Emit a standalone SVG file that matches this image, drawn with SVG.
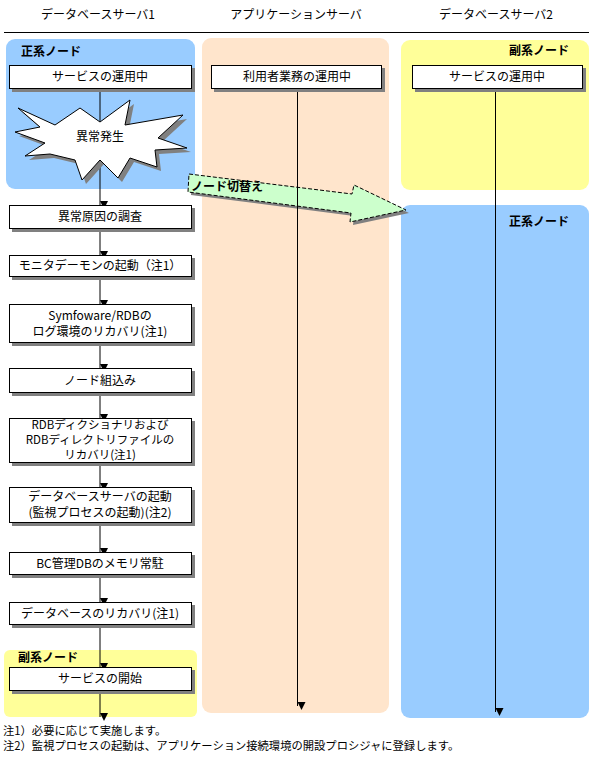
<svg xmlns="http://www.w3.org/2000/svg" width="596" height="757" viewBox="0 0 596 757">
<defs>
<style>
text{font-family:"Noto Sans CJK JP","Noto Sans",sans-serif;font-size:12px;fill:#000;}
.t{text-anchor:middle;}
.b{font-weight:bold;}
.s{font-size:11.5px;}
.box{fill:#fff;stroke:#000;stroke-width:1;}
.sh{fill:#808080;}
.ln{stroke:#000;stroke-width:1;fill:none;}
.fn{font-size:11.3px;}
</style>
<marker id="ah" viewBox="0 0 8 8" refX="4" refY="8" markerWidth="8" markerHeight="8" markerUnits="userSpaceOnUse" orient="auto-start-reverse">
<path d="M0,0 L8,0 L4,8 Z" fill="#000" transform="rotate(-90 4 4)"/>
</marker>
</defs>
<rect width="596" height="757" fill="#fff"/>

<!-- header -->
<g id="header">
<text class="t" x="98" y="19">データベースサーバ1</text>
<text class="t" x="296" y="19">アプリケーションサーバ</text>
<text class="t" x="496" y="19">データベースサーバ2</text>
<line x1="4" y1="32.5" x2="589" y2="32.5" stroke="#000"/>
</g>

<!-- panels -->
<g id="panels">
<rect x="6" y="39" width="189" height="150" rx="9" fill="#99CCFF"/>
<rect x="202" y="38" width="187" height="675" rx="9" fill="#FFE5CC"/>
<rect x="401" y="40" width="188" height="150" rx="9" fill="#FFFF99"/>
<rect x="401" y="205" width="188" height="513" rx="9" fill="#99CCFF"/>
<rect x="4" y="650" width="193" height="67" rx="6" fill="#FFFF99"/>
<text class="b" x="21" y="56">正系ノード</text>
<text class="b" x="509" y="55">副系ノード</text>
<text class="b" x="509" y="226">正系ノード</text>
<text class="b" x="18" y="662">副系ノード</text>
</g>

<!-- switch arrow -->
<g id="switch">
<polygon points="192,177 355,197 357,188 409,213 353,225 354,216 191,195" fill="#808080"/>
<polygon points="189,174 352,194 354,185 406,210 350,222 351,213 188,192" fill="#CCFFCC" stroke="#000" stroke-dasharray="4,2"/>
<text class="b" x="191" y="191">ノード切替え</text>
</g>

<!-- connectors -->
<g id="connectors">
<line class="ln" x1="100" y1="89" x2="100" y2="205" marker-end="url(#ah)"/>
<line class="ln" x1="100" y1="229" x2="100" y2="255" marker-end="url(#ah)"/>
<line class="ln" x1="100" y1="277" x2="100" y2="304" marker-end="url(#ah)"/>
<line class="ln" x1="100" y1="343" x2="100" y2="368" marker-end="url(#ah)"/>
<line class="ln" x1="100" y1="393" x2="100" y2="418" marker-end="url(#ah)"/>
<line class="ln" x1="100" y1="463" x2="100" y2="487" marker-end="url(#ah)"/>
<line class="ln" x1="100" y1="523" x2="100" y2="552" marker-end="url(#ah)"/>
<line class="ln" x1="100" y1="575" x2="100" y2="602" marker-end="url(#ah)"/>
<line class="ln" x1="100" y1="625" x2="100" y2="667" marker-end="url(#ah)"/>
<line class="ln" x1="100" y1="691" x2="100" y2="717" marker-end="url(#ah)"/>
<line class="ln" x1="297.5" y1="89" x2="297.5" y2="706" marker-end="url(#ah)"/>
<line class="ln" x1="495.5" y1="89" x2="495.5" y2="712" marker-end="url(#ah)"/>
</g>

<!-- starburst -->
<g id="n-ijou">
<polygon transform="translate(4,4)" class="sh" points="18,108 55,125 80,108 100,122 130,100 125,125 183,115 158,138 187,148 155,150 157,167 130,158 118,178 100,160 82,180 75,160 50,154 25,156 45,143 15,132 40,127"/>
<polygon fill="#fff" stroke="#000" points="18,108 55,125 80,108 100,122 130,100 125,125 183,115 158,138 187,148 155,150 157,167 130,158 118,178 100,160 82,180 75,160 50,154 25,156 45,143 15,132 40,127"/>
<text class="t" x="100" y="141">異常発生</text>
</g>

<!-- DB1 boxes -->
<g id="n-db1-service">
<rect class="sh" x="12" y="68" width="183" height="24"/>
<rect class="box" x="9.5" y="65.5" width="182" height="23"/>
<text class="t" x="100" y="81">サービスの運用中</text>
</g>
<g id="n-app-service">
<rect class="sh" x="214" y="68" width="171" height="24"/>
<rect class="box" x="211.5" y="65.5" width="170" height="23"/>
<text class="t" x="297" y="81">利用者業務の運用中</text>
</g>
<g id="n-db2-service">
<rect class="sh" x="415" y="68" width="171" height="24"/>
<rect class="box" x="412.5" y="65.5" width="170" height="23"/>
<text class="t" x="497" y="81">サービスの運用中</text>
</g>

<g id="n-cause">
<rect class="sh" x="12" y="208" width="183" height="24"/>
<rect class="box" x="9.5" y="205.5" width="182" height="23"/>
<text class="t" x="100" y="221">異常原因の調査</text>
</g>
<g id="n-monitor">
<rect class="sh" x="12" y="258" width="183" height="22"/>
<rect class="box" x="9.5" y="255.5" width="182" height="21"/>
<text class="t" x="100" y="270">モニタデーモンの起動（注1）</text>
</g>
<g id="n-log">
<rect class="sh" x="12" y="307" width="183" height="39"/>
<rect class="box" x="9.5" y="304.5" width="182" height="38"/>
<text class="t" x="100" y="320">Symfoware/RDBの</text>
<text class="t" x="100" y="336">ログ環境のリカバリ(注1)</text>
</g>
<g id="n-node">
<rect class="sh" x="12" y="371" width="183" height="25"/>
<rect class="box" x="9.5" y="368.5" width="182" height="24"/>
<text class="t" x="100" y="385">ノード組込み</text>
</g>
<g id="n-dict">
<rect class="sh" x="12" y="421" width="183" height="45"/>
<rect class="box" x="9.5" y="418.5" width="182" height="44"/>
<text class="t s" x="100" y="429">RDBディクショナリおよび</text>
<text class="t s" x="100" y="444">RDBディレクトリファイルの</text>
<text class="t s" x="100" y="459">リカバリ(注1)</text>
</g>
<g id="n-dbstart">
<rect class="sh" x="12" y="490" width="183" height="36"/>
<rect class="box" x="9.5" y="487.5" width="182" height="35"/>
<text class="t" x="100" y="501">データベースサーバの起動</text>
<text class="t" x="100" y="517">(監視プロセスの起動)(注2)</text>
</g>
<g id="n-bc">
<rect class="sh" x="12" y="555" width="183" height="23"/>
<rect class="box" x="9.5" y="552.5" width="182" height="22"/>
<text class="t" x="100" y="568">BC管理DBのメモリ常駐</text>
</g>
<g id="n-recover">
<rect class="sh" x="12" y="605" width="183" height="23"/>
<rect class="box" x="9.5" y="602.5" width="182" height="22"/>
<text class="t" x="100" y="618">データベースのリカバリ(注1)</text>
</g>
<g id="n-start">
<rect class="sh" x="12" y="670" width="183" height="24"/>
<rect class="box" x="9.5" y="667.5" width="182" height="23"/>
<text class="t" x="100" y="683">サービスの開始</text>
</g>

<g id="notes">
<text class="fn" x="3" y="735">注1）必要に応じて実施します。</text>
<text class="fn" x="3" y="750">注2）監視プロセスの起動は、アプリケーション接続環境の開設プロシジャに登録します。</text>
</g>
</svg>
